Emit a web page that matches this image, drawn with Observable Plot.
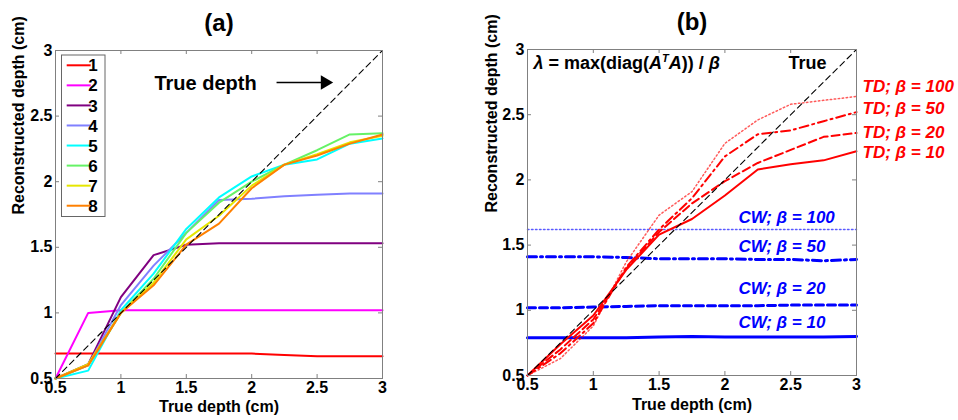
<!DOCTYPE html>
<html><head><meta charset="utf-8">
<script src="https://cdn.jsdelivr.net/npm/d3@7"></script>
<script src="https://cdn.jsdelivr.net/npm/@observablehq/plot@0.6"></script>
<style>
body{margin:0;background:#fff;}
#wrap{position:relative;width:958px;height:420px;display:flex;}
.panel{position:relative;width:479px;height:420px;}
svg{font-family:"Liberation Sans",Arial,Helvetica,sans-serif;font-weight:bold;}
</style></head><body>
<div id="wrap"><div class="panel" id="pa"></div><div class="panel" id="pb"></div></div>
<script>
// ---------- data ----------
const depths = [0.5, 0.75, 1, 1.25, 1.5, 1.75, 2, 2.25, 2.5, 2.75, 3];
const axisTicks = [0.5, 1, 1.5, 2, 2.5, 3];
const tickLabels = ["0.5", "1", "1.5", "2", "2.5", "3"];
const diagonal = [0.5, 3];

// panel (a)
const namesA = ["1", "2", "3", "4", "5", "6", "7", "8"];
const colorsA = ["#ff0000", "#ff00ff", "#800080", "#8080ff", "#00ffff", "#66f266", "#e6e600", "#ff8000"];
const a1 = [0.69, 0.69, 0.69, 0.69, 0.69, 0.69, 0.69, 0.68, 0.67, 0.67, 0.67];
const a2 = [0.5, 1.0, 1.02, 1.02, 1.02, 1.02, 1.02, 1.02, 1.02, 1.02, 1.02];
const a3 = [0.5, 0.61, 1.12, 1.44, 1.52, 1.53, 1.53, 1.53, 1.53, 1.53, 1.53];
const a4 = [0.5, 0.6, 1.06, 1.36, 1.61, 1.86, 1.87, 1.89, 1.9, 1.91, 1.91];
const a5 = [0.5, 0.56, 1.02, 1.3, 1.64, 1.88, 2.04, 2.13, 2.17, 2.29, 2.33];
const a6 = [0.5, 0.6, 1.0, 1.26, 1.61, 1.84, 2.0, 2.13, 2.24, 2.36, 2.37];
const a7 = [0.5, 0.61, 1.0, 1.23, 1.56, 1.74, 1.97, 2.13, 2.21, 2.3, 2.35];
const a8 = [0.5, 0.6, 1.0, 1.21, 1.52, 1.68, 1.95, 2.13, 2.2, 2.29, 2.36];
const valuesA = [a1, a2, a3, a4, a5, a6, a7, a8];

// panel (b)
const td10  = [0.5, 0.74, 0.96, 1.31, 1.58, 1.70, 1.88, 2.08, 2.12, 2.15, 2.22];
const td20  = [0.5, 0.70, 0.93, 1.32, 1.60, 1.82, 1.99, 2.13, 2.23, 2.33, 2.36];
const td50  = [0.5, 0.67, 0.90, 1.33, 1.62, 1.86, 2.18, 2.35, 2.38, 2.45, 2.52];
const td100 = [0.5, 0.63, 0.88, 1.37, 1.73, 1.91, 2.28, 2.46, 2.58, 2.61, 2.64];
const cw10  = [0.79, 0.79, 0.79, 0.79, 0.795, 0.80, 0.795, 0.795, 0.795, 0.795, 0.80];
const cw20  = [1.02, 1.02, 1.025, 1.03, 1.035, 1.035, 1.035, 1.035, 1.04, 1.04, 1.04];
const cw50  = [1.41, 1.41, 1.41, 1.405, 1.395, 1.395, 1.395, 1.39, 1.39, 1.38, 1.39];
const cw100 = [1.62, 1.62, 1.62, 1.62, 1.62, 1.62, 1.62, 1.62, 1.62, 1.62, 1.62];
const betas = [10, 20, 50, 100];
const dashes = [null, "8,4", "9,4,2,4", "1.5,2.5"];
const tdValues = [td10, td20, td50, td100];
const cwValues = [cw10, cw20, cw50, cw100];
const tdColor = "#ff0000", cwColor = "#0000ff";

// annotations (data coordinates)
const annA = [{x: 1.647, y: 2.748, text: "True depth"}];
const arrowA = {x1: 2.19, x2: 2.58, head: 2.56, y: 2.756};
const tdLabelY = [2.212, 2.366, 2.545, 2.716];
const cwLabelY = [0.906, 1.167, 1.489, 1.712];
const cwLabelX = 2.103;
const LAMBDA = "λ = max(diag(ATA)) / β";
const annB = [{x: 0.546, y: 2.893, text: LAMBDA}, {x: 2.483, y: 2.893, text: "True"}];

// ---------- helpers ----------
const rows = vals => depths.map((d, i) => ({x: d, y: vals[i]}));
const FS = 16;
const frameCol = "#808080";
const fmt = d => tickLabels[axisTicks.indexOf(d)];

function axes(frameW, frameH, titleDy, yDx, title) {
  return [
    Plot.tickY(axisTicks, {y: d => d, insetRight: frameW - 4, stroke: frameCol}),
    Plot.tickY(axisTicks, {y: d => d, insetLeft: frameW - 4, stroke: frameCol}),
    Plot.tickX(axisTicks, {x: d => d, insetTop: frameH - 4, stroke: frameCol}),
    Plot.tickX(axisTicks, {x: d => d, insetBottom: frameH - 4, stroke: frameCol}),
    Plot.axisX(axisTicks, {tickSize: 0, tickPadding: 3, fontSize: FS, label: null, fill: "black", tickFormat: fmt}),
    Plot.axisY(axisTicks, {tickSize: 0, tickPadding: 3, fontSize: FS, label: null, fill: "black", tickFormat: fmt}),
    Plot.text(["True depth (cm)"], {frameAnchor: "bottom", lineAnchor: "middle", dy: titleDy, fontSize: FS, fill: "black"}),
    Plot.text(["Reconstructed depth (cm)"], {frameAnchor: "left", lineAnchor: "middle", dx: yDx, rotate: -90, fontSize: FS, fill: "black"}),
    Plot.text([title], {frameAnchor: "top", lineAnchor: "middle", dy: -27, fontSize: 24, fill: "black"})
  ];
}

// ---------- panel (a) ----------
const wA = 479, mlA = 55, mrA = 97, mtA = 50, mbA = 42;
const plotA = Plot.plot({
  width: wA, height: 420,
  marginLeft: mlA, marginRight: mrA, marginTop: mtA, marginBottom: mbA,
  x: {domain: [0.5, 3], axis: null},
  y: {domain: [0.5, 3], axis: null},
  marks: [
    ...valuesA.map((v, i) => Plot.line(rows(v), {x: "x", y: "y", stroke: colorsA[i], strokeWidth: 2})),
    Plot.line(diagonal.map(d => ({x: d, y: d})), {x: "x", y: "y", stroke: "black", strokeWidth: 1.1, strokeDasharray: "6,4"}),
    Plot.text(annA, {x: "x", y: "y", text: "text", fontSize: 20, fill: "black"}),
    Plot.link([arrowA], {x1: "x1", x2: "x2", y1: "y", y2: "y", stroke: "black", strokeWidth: 1.6}),
    Plot.dot([arrowA], {x: "head", y: "y", symbol: "triangle", rotate: 90, r: 5.3, fill: "black", stroke: null}),
    ...axes(wA - mlA - mrA, 420 - mtA - mbA, 28, -37, "(a)"),
    Plot.frame({stroke: frameCol})
  ]
});
document.getElementById("pa").appendChild(plotA);

// legend (panel a)
{
  const svg = d3.select(plotA);
  const g = svg.append("g").attr("transform", "translate(61.5,55)");
  g.append("rect").attr("width", 43.5).attr("height", 161.5).attr("fill", "white").attr("stroke", "#666").attr("stroke-width", 1);
  namesA.forEach((n, i) => {
    const y = 10.3 + i * 20.06;
    g.append("line").attr("x1", 5.2).attr("x2", 29.2).attr("y1", y).attr("y2", y).attr("stroke", colorsA[i]).attr("stroke-width", 2);
    g.append("text").attr("x", 31.5).attr("y", y).attr("dy", "0.36em").attr("font-size", 17).attr("fill", "black").text(n);
  });
}

// ---------- panel (b) ----------
const wB = 479, mlB = 48, mrB = 102, mtB = 49, mbB = 45;
const plotB = Plot.plot({
  width: wB, height: 420,
  marginLeft: mlB, marginRight: mrB, marginTop: mtB, marginBottom: mbB,
  x: {domain: [0.5, 3], axis: null},
  y: {domain: [0.5, 3], axis: null},
  marks: [
    ...cwValues.map((v, i) => Plot.line(rows(v), {x: "x", y: "y", stroke: cwColor, strokeWidth: i === 3 ? 1.5 : 3, strokeOpacity: i === 3 ? 0.65 : 1, strokeDasharray: dashes[i]})),
    ...tdValues.map((v, i) => Plot.line(rows(v), {x: "x", y: "y", stroke: tdColor, strokeWidth: i === 3 ? 1.5 : 2, strokeOpacity: i === 3 ? 0.65 : 1, strokeDasharray: dashes[i]})),
    Plot.line(diagonal.map(d => ({x: d, y: d})), {x: "x", y: "y", stroke: "black", strokeWidth: 1.1, strokeDasharray: "6,4"}),
    Plot.text(betas.map((b, i) => ({x: 3, y: tdLabelY[i], text: `TD; β = ${b}`})), {x: "x", y: "y", text: "text", dx: 6, textAnchor: "start", fontSize: 17, fontStyle: "italic", fill: tdColor}),
    Plot.text(betas.map((b, i) => ({x: cwLabelX, y: cwLabelY[i], text: `CW; β = ${b}`})), {x: "x", y: "y", text: "text", textAnchor: "start", fontSize: 17, fontStyle: "italic", fill: cwColor}),
    Plot.text(annB, {x: "x", y: "y", text: "text", textAnchor: "start", fontSize: 18, fill: "black"}),
    ...axes(wB - mlB - mrB, 420 - mtB - mbB, 29, -36, "(b)"),
    Plot.frame({stroke: frameCol})
  ]
});
document.getElementById("pb").appendChild(plotB);

// rich formatting of the lambda expression
d3.select(plotB).selectAll("text").filter(function () { return this.textContent === LAMBDA; }).each(function () {
  const t = d3.select(this);
  t.text(null);
  t.append("tspan").attr("font-style", "italic").text("λ");
  t.append("tspan").text(" = max(diag(");
  t.append("tspan").attr("font-style", "italic").text("A");
  t.append("tspan").attr("font-style", "italic").attr("font-size", 11).attr("dy", -7).text("T");
  t.append("tspan").attr("font-style", "italic").attr("dy", 7).text("A");
  t.append("tspan").text(")) / ");
  t.append("tspan").attr("font-style", "italic").text("β");
});
</script>
</body></html>
